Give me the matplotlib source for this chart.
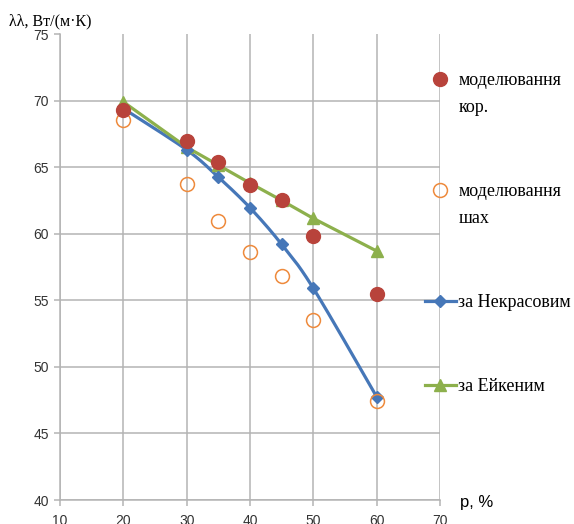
import matplotlib
matplotlib.use('Agg')
import matplotlib.pyplot as plt
from matplotlib.legend_handler import HandlerLine2D
import numpy as np

# DATA
p_kor = [20, 30, 35, 40, 45, 50, 60]
lam_kor = [69.3, 67.0, 65.35, 63.65, 62.5, 59.8, 55.5]

p_shah = [20, 30, 35, 40, 45, 50, 60]
lam_shah = [68.55, 63.7, 60.95, 58.6, 56.85, 53.55, 47.45]

p_nekr = [20, 30, 35, 40, 45, 50, 60]
lam_nekr = [69.4, 66.3, 64.25, 61.95, 59.2, 55.9, 47.75]

p_eik = [20, 30, 35, 40, 45, 50, 60]
lam_eik = [69.9, 66.5, 65.15, 63.8, 62.5, 61.15, 58.7]

labels = ['моделювання\nкор.', 'моделювання\nшах', 'за Некрасовим', 'за Ейкеним']
xticks = [10, 20, 30, 40, 50, 60, 70]
yticks = [40, 45, 50, 55, 60, 65, 70, 75]


def smooth(x, y, n=25):
    # Catmull-Rom curve through the points (like Excel's smoothed line)
    pts = np.column_stack([x, y]).astype(float)
    p = np.vstack([pts[0], pts, pts[-1]])
    t = np.linspace(0, 1, n)[:, None]
    out = []
    for i in range(1, len(p) - 2):
        p0, p1, p2, p3 = p[i - 1], p[i], p[i + 1], p[i + 2]
        c = 0.5 * (2 * p1 + (-p0 + p2) * t + (2 * p0 - 5 * p1 + 4 * p2 - p3) * t ** 2
                   + (-p0 + 3 * p1 - 3 * p2 + p3) * t ** 3)
        out.append(c)
    return np.vstack(out)


class HandlerUp(HandlerLine2D):
    # legend marker put on the first line of a two-line label
    def __init__(self, dy, **kw):
        super().__init__(**kw)
        self.dy = dy

    def create_artists(self, legend, orig_handle, xdescent, ydescent, width,
                       height, fontsize, trans):
        arts = super().create_artists(legend, orig_handle, xdescent, ydescent,
                                      width, height, fontsize, trans)
        for a in arts:
            a.set_ydata(np.asarray(a.get_ydata()) + self.dy)
        return arts


fig = plt.figure(figsize=(5.74, 5.24), dpi=100)
ax = fig.add_axes([60 / 574, 24 / 524, 380 / 574, 466 / 524])

grey = '#B4B4B4'
blue = '#4677B8'
green = '#8DB04C'
red = '#B8433B'
orange = '#EE8A3C'

# PLOTTING
curve = smooth(p_nekr, lam_nekr)
ax.plot(curve[:, 0], curve[:, 1], color=blue, lw=2.3, zorder=3)
h_nekr, = ax.plot(p_nekr, lam_nekr, ls='none', marker='D', ms=6, color=blue, zorder=4)
h_eik, = ax.plot(p_eik, lam_eik, '-', color=green, lw=2.3, marker='^', ms=9, zorder=3)
h_shah, = ax.plot(p_shah, lam_shah, ls='none', marker='o', ms=10, mfc='none',
                  mec=orange, mew=1.1, zorder=5)
h_kor, = ax.plot(p_kor, lam_kor, ls='none', marker='o', ms=10, color=red, zorder=6)

h_nekr_leg, = ax.plot([], [], '-', color=blue, lw=2.3, marker='D', ms=6)

ax.set_xlim(10, 70)
ax.set_ylim(40, 75)
ax.set_xticks(xticks)
ax.set_yticks(yticks)
ax.grid(True, color=grey, lw=1.1)
ax.yaxis.get_gridlines()[-1].set_visible(False)
ax.set_axisbelow(True)
for s in ['top', 'right']:
    ax.spines[s].set_visible(False)
for s in ['left', 'bottom']:
    ax.spines[s].set_color(grey)
    ax.spines[s].set_linewidth(1.1)
ax.tick_params(axis='both', color=grey, length=4, width=1.1, labelsize=10,
               labelcolor='#333333')
ax.tick_params(axis='x', pad=6)
ax.tick_params(axis='y', pad=4)
for lab in ax.get_xticklabels() + ax.get_yticklabels():
    lab.set_family('Liberation Sans')

fig.text(9 / 574, 1 - 21 / 524, 'λλ, Вт/(м·К)', family='Liberation Serif',
         fontsize=11.5, va='center', ha='left')
fig.text(460 / 574, 1 - 502 / 524, 'p, %', family='Liberation Sans',
         fontsize=12, va='center', ha='left')

leg = fig.legend([h_kor, h_shah, h_nekr_leg, h_eik], labels,
                 loc='upper left', bbox_to_anchor=(425 / 574, 1 - 72 / 524),
                 frameon=False, borderpad=0, borderaxespad=0,
                 handlelength=1.7, handletextpad=0.15, labelspacing=3.72,
                 prop={'family': 'Liberation Serif', 'size': 13},
                 handler_map={h_kor: HandlerUp(11), h_shah: HandlerUp(11)})
for t in leg.get_texts():
    t.set_linespacing(1.75)

plt.savefig('out.png', dpi=100)
